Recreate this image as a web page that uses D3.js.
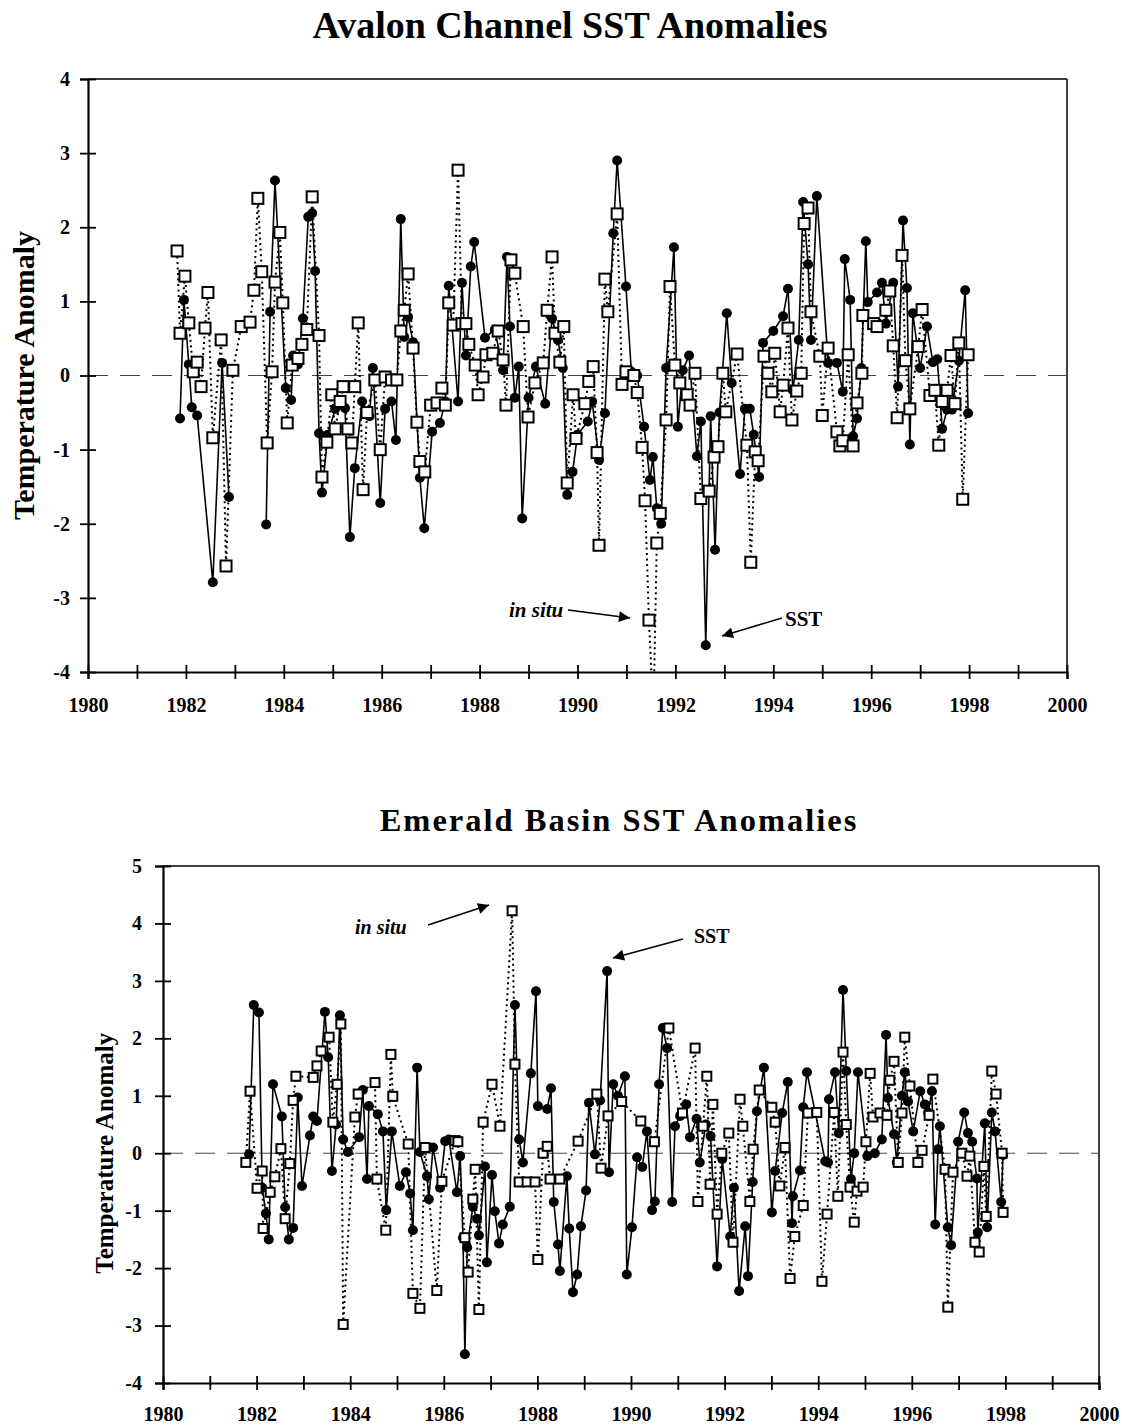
<!DOCTYPE html>
<html>
<head>
<meta charset="utf-8">
<script src="https://cdn.jsdelivr.net/npm/d3@7"></script>
<style>
  body { margin: 0; background: #fff; }
  svg text { font-family: "Liberation Serif", "DejaVu Serif", serif; font-weight: bold; fill: #000; }
</style>
</head>
<body>
<svg id="chart" width="1122" height="1427"></svg>
<script>
// Avalon Channel: [year, anomaly]; null marks a gap in the record
const avalonSst = [
  [1981.88,-0.58],[1981.96,1.02],[1982.06,0.15],[1982.12,-0.43],[1982.23,-0.54],[1982.55,-2.79],[1982.74,0.17],[1982.88,-1.64],[1983.2,null],
  [1983.64,-2.01],[1983.72,0.86],[1983.82,2.63],[1984.04,-0.17],[1984.15,-0.33],[1984.19,0.27],[1984.29,0.15],[1984.39,0.77],[1984.50,2.14],
  [1984.58,2.19],[1984.64,1.41],[1984.72,-0.78],[1984.78,-1.58],[1984.90,-0.80],[1985.05,-0.45],[1985.25,-0.44],[1985.35,-2.18],[1985.45,-1.25],
  [1985.60,-0.35],[1985.75,-0.55],[1985.82,0.10],[1985.97,-1.72],[1986.07,-0.45],[1986.20,-0.35],[1986.29,-0.87],[1986.39,2.11],[1986.46,0.52],
  [1986.54,0.79],[1986.64,0.45],[1986.78,-1.38],[1986.87,-2.06],[1987.03,-0.76],[1987.19,-0.64],[1987.30,-0.35],[1987.37,1.21],[1987.56,-0.35],
  [1987.64,1.25],[1987.72,0.27],[1987.82,1.47],[1987.89,1.80],[1988.11,0.51],[1988.31,0.62],[1988.48,0.07],[1988.56,1.60],[1988.62,0.66],
  [1988.72,-0.30],[1988.80,0.12],[1988.87,-1.93],[1989.00,-0.30],[1989.15,0.12],[1989.34,-0.38],[1989.48,0.77],[1989.60,0.48],[1989.70,0.10],
  [1989.79,-1.61],[1989.90,-1.30],[1990.00,-0.80],[1990.21,-0.62],[1990.30,-0.35],[1990.44,-1.14],[1990.56,-0.51],[1990.73,1.92],[1990.81,2.90],
  [1990.99,1.20],[1991.10,0.05],[1991.22,0.00],[1991.36,-0.69],[1991.48,-1.41],[1991.54,-1.10],[1991.62,-1.79],[1991.71,-2.00],[1991.81,0.10],
  [1991.97,1.73],[1992.05,-0.69],[1992.15,0.07],[1992.28,0.27],[1992.44,-1.09],[1992.52,-0.62],[1992.62,-3.64],[1992.72,-0.55],[1992.81,-2.35],
  [1992.90,-0.50],[1993.05,0.84],[1993.15,-0.10],[1993.32,-1.33],[1993.42,-0.45],[1993.52,-0.45],[1993.60,-0.80],[1993.71,-1.37],[1993.79,0.44],
  [1994.00,0.60],[1994.20,0.80],[1994.30,1.17],[1994.40,-0.20],[1994.52,0.48],[1994.61,2.34],[1994.71,1.50],[1994.77,0.48],[1994.89,2.42],
  [1995.12,0.17],[1995.30,0.17],[1995.42,-0.22],[1995.46,1.57],[1995.57,1.02],[1995.63,-0.82],[1995.71,-0.58],[1995.80,0.10],[1995.89,1.81],
  [1995.93,0.99],[1996.12,1.12],[1996.22,1.25],[1996.30,0.70],[1996.45,1.25],[1996.55,-0.15],[1996.65,2.09],[1996.73,1.18],[1996.79,-0.93],
  [1996.85,0.84],[1997.00,0.10],[1997.14,0.66],[1997.26,0.18],[1997.35,0.22],[1997.45,-0.72],[1997.55,-0.46],[1997.65,-0.46],[1997.79,0.20],
  [1997.92,1.15],[1997.98,-0.51]
];
const avalonInSitu = [
  [1981.82,1.68],[1981.88,0.57],[1981.98,1.34],[1982.06,0.71],[1982.15,0.05],[1982.23,0.18],[1982.31,-0.15],[1982.39,0.64],[1982.45,1.12],
  [1982.55,-0.84],[1982.72,0.48],[1982.82,-2.57],[1982.96,0.07],[1983.13,0.66],[1983.31,0.72],[1983.39,1.15],[1983.47,2.39],[1983.55,1.40],
  [1983.66,-0.91],[1983.76,0.05],[1983.82,1.26],[1983.92,1.93],[1983.98,0.98],[1984.07,-0.64],[1984.17,0.14],[1984.29,0.23],[1984.37,0.42],
  [1984.47,0.62],[1984.58,2.41],[1984.72,0.54],[1984.78,-1.37],[1984.88,-0.90],[1984.98,-0.26],[1985.05,-0.72],[1985.15,-0.35],[1985.21,-0.15],
  [1985.31,-0.72],[1985.39,-0.91],[1985.45,-0.15],[1985.52,0.71],[1985.62,-1.54],[1985.70,-0.50],[1985.86,-0.06],[1985.97,-1.00],[1986.07,-0.02],
  [1986.20,-0.06],[1986.31,-0.06],[1986.39,0.60],[1986.46,0.88],[1986.54,1.37],[1986.64,0.37],[1986.72,-0.63],[1986.78,-1.16],[1986.88,-1.30],
  [1987.00,-0.40],[1987.13,-0.37],[1987.23,-0.17],[1987.30,-0.40],[1987.37,0.98],[1987.46,0.68],[1987.56,2.77],[1987.64,0.70],[1987.72,0.70],
  [1987.78,0.42],[1987.91,0.14],[1987.97,-0.26],[1988.07,-0.02],[1988.13,0.28],[1988.27,0.30],[1988.38,0.60],[1988.48,0.21],[1988.54,-0.40],
  [1988.64,1.56],[1988.72,1.38],[1988.89,0.66],[1988.99,-0.56],[1989.13,-0.10],[1989.30,0.17],[1989.38,0.88],[1989.48,1.60],[1989.54,0.57],
  [1989.64,0.18],[1989.72,0.66],[1989.79,-1.45],[1989.91,-0.26],[1989.97,-0.85],[1990.15,-0.38],[1990.23,-0.08],[1990.32,0.12],[1990.40,-1.04],
  [1990.44,-2.29],[1990.56,1.30],[1990.62,0.86],[1990.81,2.18],[1990.91,-0.12],[1990.99,0.05],[1991.15,0.00],[1991.22,-0.23],[1991.32,-0.97],
  [1991.38,-1.69],[1991.46,-3.30],[1991.55,-4.60],[1991.62,-2.26],[1991.69,-1.86],[1991.81,-0.60],[1991.89,1.20],[1991.99,0.14],[1992.09,-0.10],
  [1992.24,-0.26],[1992.30,-0.40],[1992.40,0.03],[1992.52,-1.66],[1992.69,-1.56],[1992.79,-1.10],[1992.87,-0.96],[1992.97,0.03],[1993.03,-0.49],
  [1993.26,0.29],[1993.46,-0.94],[1993.54,-2.52],[1993.63,-1.03],[1993.69,-1.15],[1993.81,0.26],[1993.89,0.03],[1993.97,-0.22],[1994.03,0.30],
  [1994.14,-0.49],[1994.20,-0.13],[1994.30,0.64],[1994.38,-0.60],[1994.48,-0.21],[1994.57,0.03],[1994.63,2.05],[1994.71,2.26],[1994.77,0.86],
  [1994.95,0.26],[1995.00,-0.54],[1995.12,0.37],[1995.30,-0.76],[1995.36,-0.95],[1995.42,-0.88],[1995.53,0.28],[1995.63,-0.95],[1995.71,-0.37],
  [1995.81,0.03],[1995.83,0.81],[1996.05,0.70],[1996.12,0.66],[1996.30,0.88],[1996.38,1.14],[1996.45,0.40],[1996.53,-0.57],[1996.63,1.62],
  [1996.70,0.20],[1996.79,-0.45],[1996.96,0.39],[1997.04,0.89],[1997.20,-0.27],[1997.30,-0.20],[1997.38,-0.94],[1997.45,-0.35],[1997.55,-0.20],
  [1997.63,0.27],[1997.71,-0.38],[1997.79,0.44],[1997.87,-1.67],[1997.98,0.28]
];

// Emerald Basin: [year, anomaly]
const emeraldSst = [
  [1981.84,-0.02],[1981.94,2.58],[1982.05,2.45],[1982.12,-0.60],[1982.20,-1.05],[1982.26,-1.50],[1982.35,1.20],[1982.54,0.64],[1982.61,-0.94],
  [1982.69,-1.50],[1982.78,-1.30],[1982.88,0.97],[1982.97,-0.57],[1983.14,0.31],[1983.21,0.64],[1983.29,0.56],[1983.46,2.46],[1983.53,1.67],
  [1983.61,-0.31],[1983.70,0.50],[1983.78,2.40],[1983.85,0.24],[1983.95,0.02],[1984.19,0.28],[1984.27,1.10],[1984.36,-0.45],[1984.40,0.82],
  [1984.59,0.68],[1984.70,0.38],[1984.77,-0.99],[1984.89,0.38],[1985.06,-0.57],[1985.19,-0.33],[1985.28,-0.70],[1985.34,-1.34],[1985.43,1.49],
  [1985.49,0.02],[1985.64,-0.40],[1985.68,-0.80],[1985.77,0.10],[1985.92,-0.60],[1986.03,0.21],[1986.11,0.24],[1986.28,-0.68],[1986.35,-0.05],
  [1986.41,-1.47],[1986.45,-3.50],[1986.50,-1.64],[1986.62,-0.93],[1986.71,-1.14],[1986.75,-1.43],[1986.88,-0.23],[1986.92,-1.90],[1987.03,-0.38],
  [1987.09,-1.01],[1987.18,-1.57],[1987.26,-1.24],[1987.41,-0.93],[1987.52,2.58],[1987.61,0.24],[1987.69,-0.16],[1987.86,1.39],[1987.97,2.82],
  [1988.01,0.82],[1988.21,0.77],[1988.29,1.13],[1988.35,-0.85],[1988.44,-1.59],[1988.48,-2.05],[1988.63,-0.40],[1988.68,-1.31],[1988.76,-2.42],
  [1988.85,-2.11],[1988.93,-1.27],[1989.04,-0.65],[1989.10,0.88],[1989.23,-0.02],[1989.34,0.92],[1989.49,3.17],[1989.53,-0.33],[1989.62,1.20],
  [1989.72,1.00],[1989.87,1.34],[1989.91,-2.11],[1990.02,-1.29],[1990.13,-0.07],[1990.24,-0.24],[1990.34,0.38],[1990.45,-0.99],[1990.51,-0.84],
  [1990.60,1.20],[1990.68,2.18],[1990.77,1.83],[1990.88,-0.85],[1990.94,0.47],[1991.05,0.65],[1991.18,0.85],[1991.26,0.28],[1991.40,0.60],
  [1991.47,-0.16],[1991.60,0.50],[1991.70,0.30],[1991.84,-1.97],[1991.95,-0.10],[1992.12,-1.45],[1992.20,-0.60],[1992.31,-2.40],[1992.44,-1.27],
  [1992.50,-2.14],[1992.60,-0.50],[1992.69,0.73],[1992.84,1.49],[1993.01,-1.03],[1993.08,-0.31],[1993.23,0.70],[1993.35,1.24],[1993.44,-1.22],
  [1993.46,-0.75],[1993.61,-0.30],[1993.68,0.80],[1993.76,1.41],[1994.15,-0.14],[1994.21,-0.16],[1994.23,0.94],[1994.36,1.41],[1994.44,0.35],
  [1994.53,2.84],[1994.60,1.43],[1994.70,-0.45],[1994.77,0.00],[1994.85,1.41],[1995.05,-0.05],[1995.21,0.00],[1995.36,0.24],[1995.45,2.06],
  [1995.49,0.96],[1995.62,0.33],[1995.68,-0.16],[1995.79,1.00],[1995.85,1.41],[1995.92,0.90],[1996.03,0.38],[1996.18,1.08],[1996.28,0.85],
  [1996.35,0.70],[1996.43,1.08],[1996.50,-1.24],[1996.56,0.07],[1996.60,0.47],[1996.77,-1.29],[1996.84,-1.60],[1996.99,0.20],[1997.12,0.71],
  [1997.20,0.35],[1997.29,0.20],[1997.39,-0.44],[1997.41,-1.38],[1997.56,0.52],[1997.61,-1.29],[1997.71,0.71],[1997.78,0.38],[1997.91,-0.85],
  [1997.95,-0.03]
];
const emeraldInSitu = [
  [1981.77,-0.16],[1981.86,1.08],[1982.01,-0.61],[1982.12,-0.31],[1982.14,-1.31],[1982.29,-0.68],[1982.39,-0.41],[1982.52,0.08],[1982.61,-1.14],
  [1982.71,-0.18],[1982.78,0.92],[1982.84,1.34],[1983.21,1.32],[1983.29,1.52],[1983.38,1.78],[1983.55,2.02],[1983.63,0.54],[1983.72,1.20],
  [1983.80,2.25],[1983.85,-2.98],[1984.10,0.63],[1984.17,1.03],[1984.53,1.23],[1984.57,-0.45],[1984.76,-1.34],[1984.87,1.72],[1984.91,0.99],
  [1985.24,0.16],[1985.34,-2.44],[1985.49,-2.70],[1985.60,0.10],[1985.85,-2.39],[1985.96,-0.49],[1986.24,0.22],[1986.30,0.20],[1986.45,-1.47],
  [1986.52,-2.07],[1986.62,-0.80],[1986.67,-0.28],[1986.75,-2.72],[1986.84,0.54],[1987.03,1.20],[1987.20,0.47],[1987.46,4.22],[1987.52,1.55],
  [1987.61,-0.50],[1987.78,-0.50],[1987.95,-0.50],[1988.01,-1.85],[1988.12,0.00],[1988.21,0.12],[1988.27,-0.45],[1988.48,-0.45],[1988.87,0.21],
  [1989.27,1.03],[1989.36,-0.26],[1989.51,0.65],[1989.80,0.90],[1990.21,0.56],[1990.50,0.20],[1990.81,2.18],[1991.10,0.70],[1991.37,1.83],
  [1991.43,-0.84],[1991.54,0.47],[1991.62,1.34],[1991.69,-0.54],[1991.75,0.85],[1991.84,-1.06],[1991.94,0.00],[1992.09,0.35],[1992.18,-1.55],
  [1992.33,0.94],[1992.39,0.47],[1992.54,-0.84],[1992.61,0.07],[1992.74,1.10],[1993.01,0.80],[1993.08,0.54],[1993.18,-0.57],[1993.29,0.10],
  [1993.40,-2.18],[1993.50,-1.45],[1993.68,-0.91],[1993.78,0.70],[1993.97,0.71],[1994.08,-2.23],[1994.19,-1.06],[1994.34,0.71],[1994.42,-0.75],
  [1994.53,1.76],[1994.60,0.50],[1994.68,-0.59],[1994.77,-1.20],[1994.83,-0.66],[1994.96,-0.59],[1995.02,0.20],[1995.11,1.39],[1995.17,0.63],
  [1995.32,0.70],[1995.47,0.66],[1995.53,1.27],[1995.62,1.60],[1995.71,-0.16],[1995.79,0.70],[1995.85,2.02],[1995.96,1.17],[1996.13,-0.16],
  [1996.22,0.05],[1996.37,0.66],[1996.45,1.29],[1996.71,-0.28],[1996.77,-2.68],[1996.88,-0.33],[1997.07,0.00],[1997.18,-0.40],[1997.24,-0.05],
  [1997.35,-1.55],[1997.44,-1.72],[1997.54,-0.23],[1997.59,-1.10],[1997.71,1.43],[1997.80,1.03],[1997.93,0.00],[1997.95,-1.03]
];

const yearTicks = d3.range(1980, 2001);
const avalonTicks = d3.range(-4, 5);
const emeraldTicks = d3.range(-4, 6);

const svg = d3.select('#chart');

const defs = svg.append('defs');
defs.append('marker')
  .attr('id', 'arrow')
  .attr('viewBox', '0 0 10 10')
  .attr('refX', 10).attr('refY', 5)
  .attr('markerWidth', 16).attr('markerHeight', 11)
  .attr('markerUnits', 'userSpaceOnUse')
  .attr('orient', 'auto')
  .append('path')
  .attr('d', 'M0,0 L10,5 L0,10 Z')
  .attr('fill', '#000');

function drawPanel(p) {
  const x = d3.scaleLinear().domain([1980, 2000]).range([p.left, p.right]);
  const y = d3.scaleLinear().domain([p.ticks[0], p.ticks[p.ticks.length - 1]]).range([p.bottom, p.top]);

  const g = svg.append('g');

  g.append('clipPath').attr('id', p.id + '-clip')
    .append('rect')
    .attr('x', p.left).attr('y', p.top)
    .attr('width', p.right - p.left).attr('height', p.bottom - p.top);

  g.append('text')
    .attr('x', p.titleX).attr('y', p.titleY)
    .attr('text-anchor', 'middle')
    .attr('font-size', p.titleSize)
    .attr('letter-spacing', p.titleSpacing)
    .text(p.title);

  g.append('text')
    .attr('transform', `translate(${p.yTitleX},${y(0)}) rotate(-90)`)
    .attr('text-anchor', 'middle')
    .attr('font-size', p.yTitleSize)
    .text('Temperature Anomaly');

  // frame
  g.append('line').attr('x1', p.left).attr('x2', p.right).attr('y1', p.top).attr('y2', p.top)
    .attr('stroke', '#000').attr('stroke-width', 1.5);
  g.append('line').attr('x1', p.right).attr('x2', p.right).attr('y1', p.top).attr('y2', p.bottom)
    .attr('stroke', '#000').attr('stroke-width', 1.5);

  // zero line
  g.append('line')
    .attr('x1', p.left).attr('x2', p.right)
    .attr('y1', y(0)).attr('y2', y(0))
    .attr('stroke', '#444').attr('stroke-width', 1)
    .attr('stroke-dasharray', '20,12');

  const xAxis = g.append('g')
    .attr('transform', `translate(0,${p.bottom})`)
    .call(d3.axisBottom(x).tickValues(yearTicks).tickSize(7).tickPadding(p.xPad)
      .tickFormat(d => d % 2 === 0 ? String(d) : ''));
  xAxis.select('.domain').attr('stroke-width', 2.2);
  xAxis.selectAll('.tick line').attr('y1', -7).attr('stroke-width', 1.8);
  xAxis.selectAll('.tick text').attr('font-size', p.tickSize)
    .style('font-family', '"Liberation Serif", serif').style('font-weight', 'bold');

  const yAxis = g.append('g')
    .attr('transform', `translate(${p.left},0)`)
    .call(d3.axisLeft(y).tickValues(p.ticks).tickSize(8).tickPadding(p.yPad).tickFormat(d => String(d)));
  yAxis.select('.domain').attr('stroke-width', 2.2);
  yAxis.selectAll('.tick line').attr('x1', 8).attr('stroke-width', 1.8);
  yAxis.selectAll('.tick text').attr('font-size', p.tickSize)
    .style('font-family', '"Liberation Serif", serif').style('font-weight', 'bold');
  g.selectAll('.domain').attr('stroke', '#000');

  const line = d3.line()
    .defined(d => d[1] !== null)
    .x(d => x(d[0])).y(d => y(d[1]));

  const plot = g.append('g').attr('clip-path', `url(#${p.id}-clip)`);

  plot.append('path').datum(p.sst)
    .attr('d', line).attr('fill', 'none')
    .attr('stroke', '#000').attr('stroke-width', 1.6);

  plot.append('path').datum(p.inSitu)
    .attr('d', line).attr('fill', 'none')
    .attr('stroke', '#000').attr('stroke-width', 2)
    .attr('stroke-dasharray', '2,3.5');

  plot.selectAll('circle.sst')
    .data(p.sst.filter(d => d[1] !== null))
    .join('circle')
    .attr('class', 'sst')
    .attr('cx', d => x(d[0])).attr('cy', d => y(d[1]))
    .attr('r', 5).attr('fill', '#000');

  plot.selectAll('rect.insitu')
    .data(p.inSitu.filter(d => d[1] !== null))
    .join('rect')
    .attr('class', 'insitu')
    .attr('x', d => x(d[0]) - p.sq / 2).attr('y', d => y(d[1]) - p.sq / 2)
    .attr('width', p.sq).attr('height', p.sq)
    .attr('fill', '#fff').attr('stroke', '#000').attr('stroke-width', 2);

  // annotations
  p.notes.forEach(n => {
    g.append('text')
      .attr('x', n.tx).attr('y', n.ty)
      .attr('text-anchor', n.anchor)
      .attr('font-size', n.size)
      .attr('font-style', n.italic ? 'italic' : 'normal')
      .text(n.label);
    g.append('line')
      .attr('x1', n.x1).attr('y1', n.y1).attr('x2', n.x2).attr('y2', n.y2)
      .attr('stroke', '#000').attr('stroke-width', 1.5)
      .attr('marker-end', 'url(#arrow)');
  });
}

drawPanel({
  id: 'avalon', title: 'Avalon Channel SST Anomalies',
  titleX: 570, titleY: 38, titleSize: 38, titleSpacing: 0,
  left: 88, right: 1067, top: 79, bottom: 672,
  ticks: avalonTicks, tickSize: 20, xPad: 19, yPad: 10, yTitleX: 34, yTitleSize: 30,
  sst: avalonSst, inSitu: avalonInSitu, sq: 11,
  notes: [
    { label: 'in situ', italic: true, tx: 509, ty: 617, anchor: 'start', size: 21, x1: 568, y1: 610, x2: 630, y2: 618 },
    { label: 'SST', italic: false, tx: 785, ty: 626, anchor: 'start', size: 21, x1: 782, y1: 618, x2: 722, y2: 636 }
  ]
});

drawPanel({
  id: 'emerald', title: 'Emerald Basin SST Anomalies',
  titleX: 619, titleY: 831, titleSize: 32.5, titleSpacing: 2,
  left: 163, right: 1099, top: 866, bottom: 1383,
  ticks: emeraldTicks, tickSize: 20, xPad: 17, yPad: 13, yTitleX: 113, yTitleSize: 25,
  sst: emeraldSst, inSitu: emeraldInSitu, sq: 9,
  notes: [
    { label: 'in situ', italic: true, tx: 355, ty: 934, anchor: 'start', size: 20, x1: 428, y1: 925, x2: 489, y2: 905 },
    { label: 'SST', italic: false, tx: 694, ty: 943, anchor: 'start', size: 20, x1: 683, y1: 939, x2: 613, y2: 958 }
  ]
});
</script>
</body>
</html>
